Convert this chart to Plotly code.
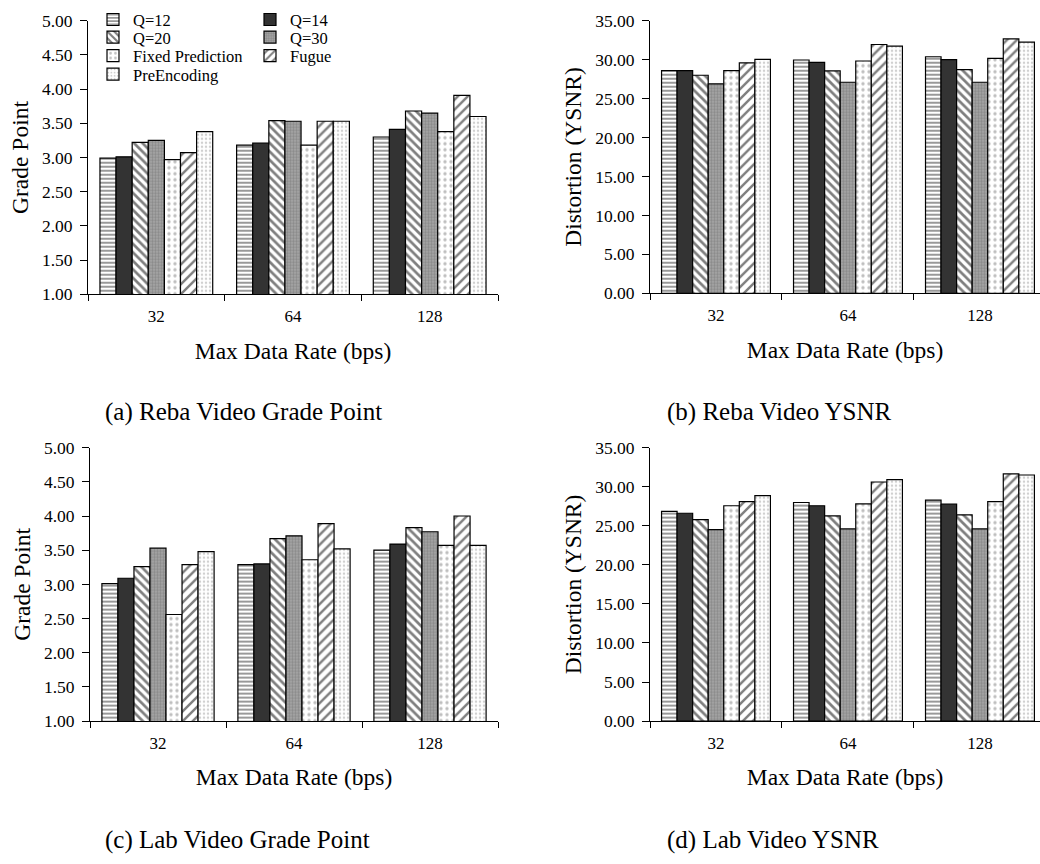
import plotly.graph_objects as go

W, H = 1040, 864
FONT = "Liberation Serif, Times New Roman, serif"

categories = ["32", "64", "128"]
series_names = ["Q=12", "Q=14", "Q=20", "Q=30", "Fixed Prediction", "Fugue", "PreEncoding"]

# (a) Reba Video Grade Point  (one list per series, values for 32/64/128)
reba_grade = [
    [2.99, 3.18, 3.30],
    [3.01, 3.21, 3.41],
    [3.22, 3.54, 3.68],
    [3.25, 3.53, 3.65],
    [2.97, 3.18, 3.38],
    [3.07, 3.53, 3.91],
    [3.38, 3.53, 3.60],
]
# (b) Reba Video YSNR
reba_ysnr = [
    [28.60, 29.96, 30.38],
    [28.60, 29.66, 30.00],
    [28.00, 28.56, 28.73],
    [26.90, 27.10, 27.10],
    [28.60, 29.83, 30.17],
    [29.60, 31.95, 32.67],
    [30.04, 31.74, 32.25],
]
# (c) Lab Video Grade Point
lab_grade = [
    [3.01, 3.29, 3.50],
    [3.09, 3.30, 3.59],
    [3.26, 3.67, 3.83],
    [3.53, 3.71, 3.77],
    [2.56, 3.36, 3.57],
    [3.29, 3.89, 4.00],
    [3.48, 3.52, 3.57],
]
# (d) Lab Video YSNR
lab_ysnr = [
    [26.85, 27.98, 28.28],
    [26.60, 27.56, 27.77],
    [25.80, 26.26, 26.40],
    [24.50, 24.60, 24.60],
    [27.56, 27.80, 28.10],
    [28.10, 30.60, 31.64],
    [28.87, 30.90, 31.50],
]

captions = ["(a) Reba Video Grade Point", "(b) Reba Video YSNR",
            "(c) Lab Video Grade Point", "(d) Lab Video YSNR"]
y_titles = ["Grade Point", "Distortion (YSNR)", "Grade Point", "Distortion (YSNR)"]
x_title = "Max Data Rate (bps)"

styles = [
    dict(color="white", pattern=dict(shape="-", fgcolor="black", bgcolor="white", size=4, solidity=0.4)),
    dict(color="#333333"),
    dict(color="white", pattern=dict(shape="\\", fgcolor="black", bgcolor="white", size=6, solidity=0.45)),
    dict(color="#999999", pattern=dict(shape=".", fgcolor="#6a6a6a", bgcolor="#a8a8a8", size=3, solidity=0.5)),
    dict(color="white", pattern=dict(shape=".", fgcolor="#808080", bgcolor="white", size=6, solidity=0.25)),
    dict(color="white", pattern=dict(shape="/", fgcolor="black", bgcolor="white", size=7, solidity=0.35)),
    dict(color="white", pattern=dict(shape=".", fgcolor="#a0a0a0", bgcolor="white", size=4, solidity=0.3)),
]


def px_x(x):
    return x / W


def px_y(y):
    return 1 - y / H


# panel geometry in pixels: (x0, x1, ytop, ybottom)
panels = [
    (88, 498, 11, 291),
    (650, 1040, 11, 290),
    (90, 498, 448, 728),
    (650, 1040, 448, 728),
]
datasets = [reba_grade, reba_ysnr, lab_grade, lab_ysnr]
yranges = [[1, 5], [0, 35], [1, 5], [0, 35]]
ydticks = [0.5, 5, 0.5, 5]
xranges = [[-0.5, 2.5], [-0.5, 2.455], [-0.5, 2.5], [-0.5, 2.455]]

fig = go.Figure()

for p, data in enumerate(datasets):
    sfx = "" if p == 0 else str(p + 1)
    for s, name in enumerate(series_names):
        fig.add_trace(go.Bar(
            x=categories, y=data[s], name=name,
            marker=dict(line=dict(color="black", width=1.2), **styles[s]),
            xaxis="x" + sfx, yaxis="y" + sfx,
            showlegend=(p == 0),
            legend=("legend" if s == 0 else "legend" + str(s + 1)),
        ))

layout = dict(
    width=W, height=H,
    margin=dict(l=0, r=0, t=0, b=0),
    paper_bgcolor="white", plot_bgcolor="white",
    barmode="group", bargap=0.175, bargroupgap=0,
    font=dict(family=FONT, color="black", size=17),
)

for p in range(4):
    sfx = "" if p == 0 else str(p + 1)
    x0, x1, yt, yb = panels[p]
    layout["xaxis" + sfx] = dict(
        domain=[px_x(x0), px_x(x1)], anchor="y" + sfx,
        type="category", range=xranges[p],
        showline=True, linecolor="black", linewidth=1,
        ticks="outside", tickson="boundaries", ticklen=6, tickcolor="black",
        showgrid=False, zeroline=False,
        tickfont=dict(family=FONT, size=17),
        ticklabelstandoff=6,
        title=dict(text=x_title, font=dict(family=FONT, size=23.5), standoff=17),
    )
    layout["yaxis" + sfx] = dict(
        domain=[px_y(yb), px_y(yt)], anchor="x" + sfx,
        range=yranges[p], dtick=ydticks[p], tickformat=".2f",
        showline=True, linecolor="black", linewidth=1,
        ticks="outside", ticklen=7, tickcolor="black",
        showgrid=False, zeroline=False,
        tickfont=dict(family=FONT, size=17.5),
        ticklabelstandoff=4,
        title=dict(text=y_titles[p], font=dict(family=FONT, size=23.5), standoff=6),
    )

# legends: one entry each, laid out in two columns inside panel (a)
leg_pos = [(93, 10), (250, 10), (93, 28), (250, 28), (93, 47), (250, 47), (93, 66)]
for s, (lx, ly) in enumerate(leg_pos):
    key = "legend" if s == 0 else "legend" + str(s + 1)
    layout[key] = dict(
        x=px_x(lx), y=px_y(ly), xanchor="left", yanchor="middle",
        bgcolor="rgba(0,0,0,0)", borderwidth=0,
        font=dict(family=FONT, size=16.5),
        itemwidth=30, tracegroupgap=0,
    )

cap_pos = [(103, 412), (665, 412), (103, 850), (665, 850)]
annotations = []
for c, (cx, cy) in zip(captions, cap_pos):
    annotations.append(dict(
        text=c, x=px_x(cx), y=px_y(cy), xref="paper", yref="paper",
        xanchor="left", yanchor="middle", showarrow=False,
        font=dict(family=FONT, size=25),
    ))
layout["annotations"] = annotations

fig.update_layout(**layout)
fig.write_html("out.html")
